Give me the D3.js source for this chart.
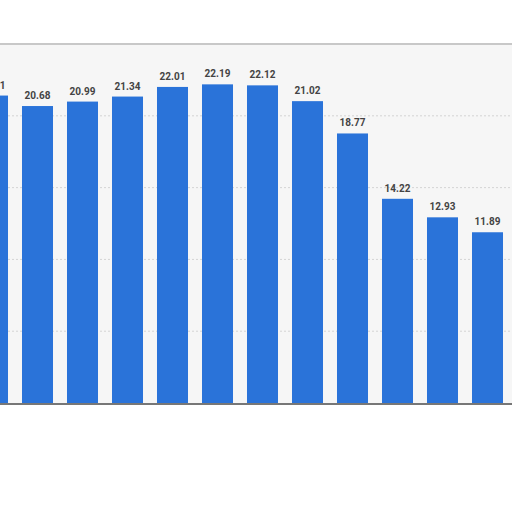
<!DOCTYPE html>
<html>
<head>
<meta charset="utf-8">
<script src="https://cdn.jsdelivr.net/npm/d3@7"></script>
<style>
  body { margin: 0; background: #fff; }
  svg { display: block; }
</style>
</head>
<body>
<svg width="512" height="512"></svg>
<script>
// data (first bar is cut by the left edge)
const categories = ['c1', 'c2', 'c3', 'c4', 'c5', 'c6', 'c7', 'c8', 'c9', 'c10', 'c11', 'c12'];
const values = [21.41, 20.68, 20.99, 21.34, 22.01, 22.19, 22.12, 21.02, 18.77, 14.22, 12.93, 11.89];
const gridTicks = [5, 10, 15, 20, 25];

const svg = d3.select('svg');

const x = d3.scaleBand()
  .domain(categories)
  .range([-30, 510])
  .paddingInner(0.311)
  .paddingOuter(0.1555);

const y = d3.scaleLinear()
  .domain([0, 25])
  .range([403, 44]);

// light plot background
svg.append('rect')
  .attr('x', 0)
  .attr('y', y(25))
  .attr('width', 512)
  .attr('height', y(0) - y(25))
  .style('fill', '#f6f6f6');

// gridlines
svg.selectAll('.grid')
  .data(gridTicks)
  .enter()
  .append('line')
  .attr('class', 'grid')
  .attr('x1', 0)
  .attr('x2', 512)
  .attr('y1', d => y(d))
  .attr('y2', d => y(d))
  .style('stroke', d => d === 25 ? '#c8c8c8' : '#d4d4d4')
  .style('stroke-width', d => d === 25 ? 2 : 1)
  .style('stroke-dasharray', d => d === 25 ? null : '2,2');

// bars
svg.selectAll('.bar')
  .data(values)
  .enter()
  .append('rect')
  .attr('class', 'bar')
  .attr('x', (d, i) => x(categories[i]))
  .attr('y', d => y(d))
  .attr('width', x.bandwidth())
  .attr('height', d => y(0) - y(d))
  .style('fill', '#2a73d9');

// value labels
svg.selectAll('.label')
  .data(values)
  .enter()
  .append('text')
  .attr('class', 'label')
  .attr('x', (d, i) => x(categories[i]) + x.bandwidth() / 2)
  .attr('y', d => y(d) - 7)
  .attr('text-anchor', 'middle')
  .style('font-family', 'Roboto, "DejaVu Sans", sans-serif')
  .style('font-size', '10px')
  .style('font-weight', 'bold')
  .style('fill', '#444')
  .text(d => d.toFixed(2));

// baseline
svg.append('line')
  .attr('x1', 0)
  .attr('x2', 512)
  .attr('y1', y(0) + 1)
  .attr('y2', y(0) + 1)
  .style('stroke', '#777')
  .style('stroke-width', 2);
</script>
</body>
</html>
